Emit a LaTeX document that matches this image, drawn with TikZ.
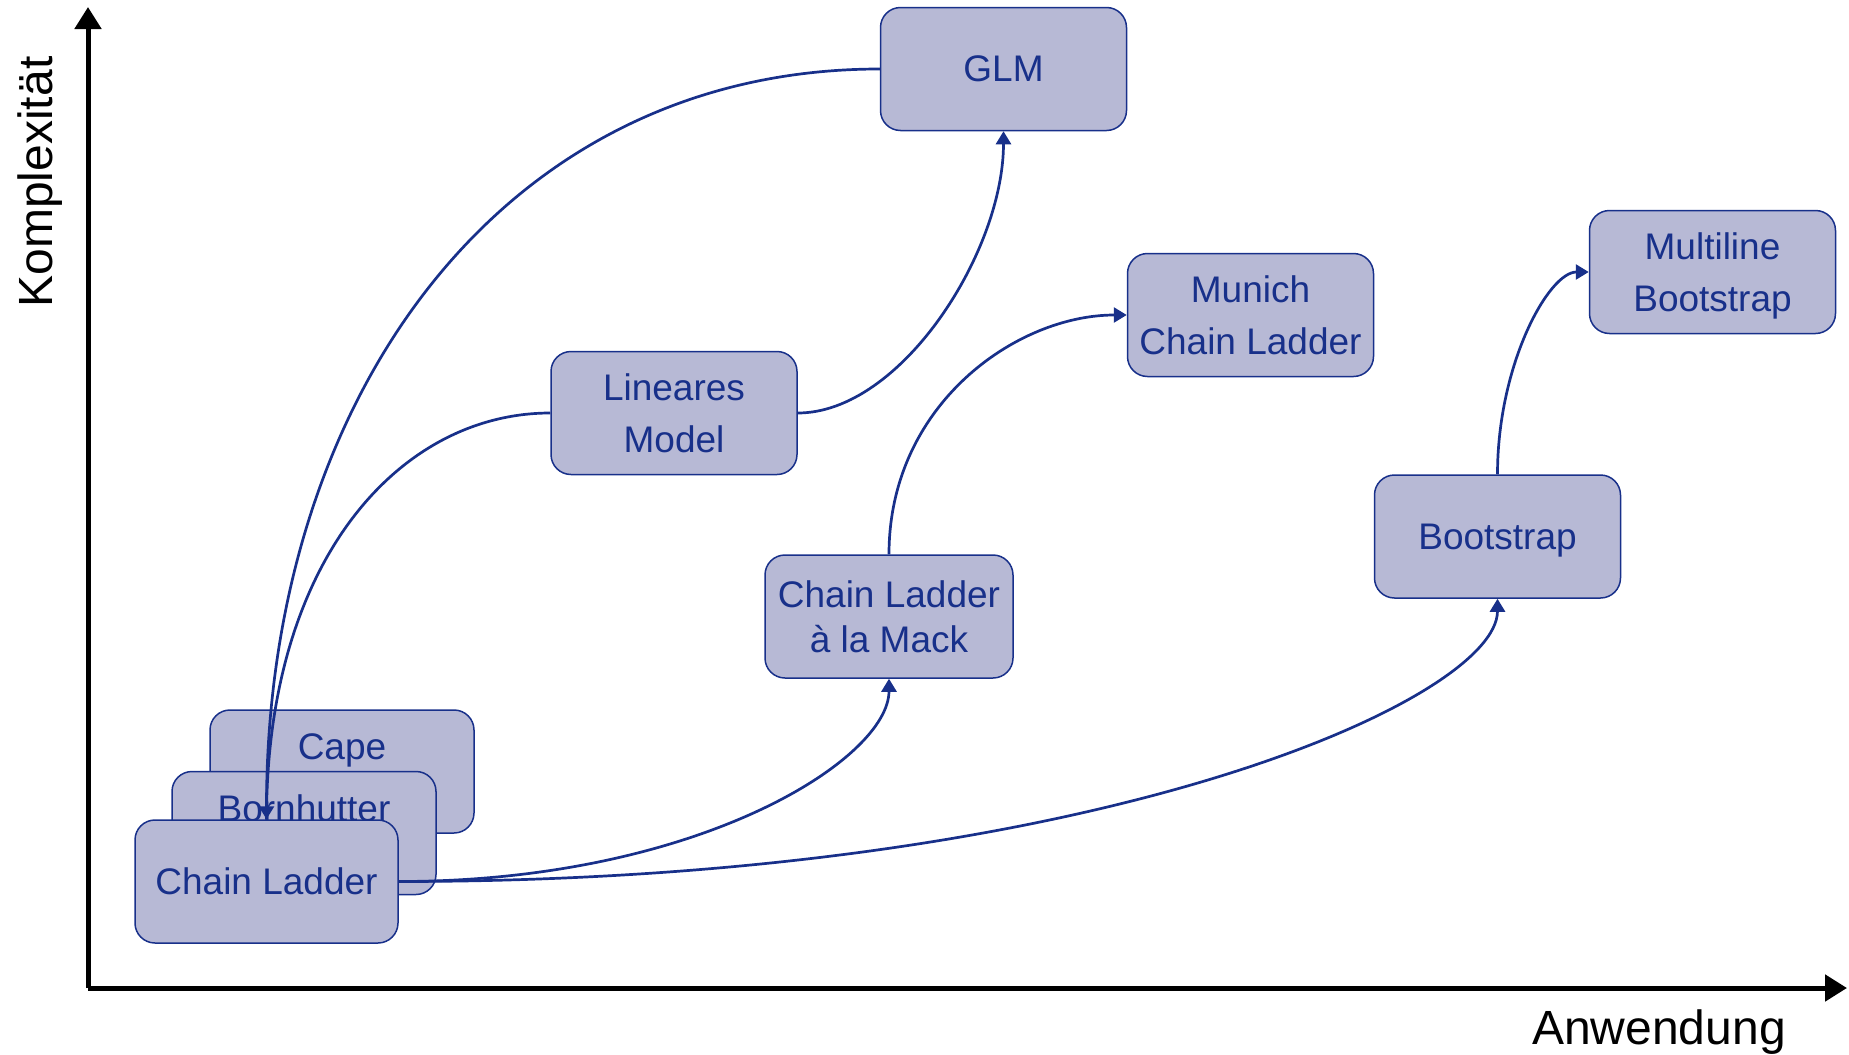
\documentclass[tikz,border=0pt]{standalone}
\usepackage{fontspec}
\setmainfont{Liberation Sans}
\usetikzlibrary{arrows.meta}
\definecolor{boxfill}{RGB}{183,185,213}
\definecolor{navy}{RGB}{24,48,138}
\begin{document}
\begin{tikzpicture}[x=0.5pt,y=-0.5pt,
  method/.style={draw=navy, line width=0.75pt, fill=boxfill, rounded corners=10pt,
    minimum width=#1, minimum height=61.5pt, inner sep=0pt, text=navy,
    text depth=0pt, font=\fontsize{18.5}{26}\selectfont, align=center},
  method/.default=123pt,
  caption/.style={text=navy, inner sep=0pt, text depth=0pt, font=\fontsize{18.5}{22}\selectfont},
  link/.style={draw=navy, line width=1.35pt},
  tip/.style={-{Triangle[length=6.5pt,width=7.5pt]}},
  axis/.style={line width=2.5pt, -{Triangle[length=11pt,width=13pt]}},
  axislabel/.style={inner sep=0pt, font=\fontsize{24}{28}\selectfont}]
  \useasboundingbox (0,0) rectangle (1849,1055);

  % axes
  \coordinate (origin) at (88,988);
  \coordinate (ytop) at (88,7);
  \coordinate (xend) at (1847,988);
  \draw[axis] (origin) -- (ytop);
  \draw[axis] (origin) -- (xend);
  \node[axislabel, rotate=90, anchor=base] (ylab) at (52,182) {Komplexität};
  \node[axislabel, anchor=base] (xlab) at (1659,1044) {Anwendung};

  % stacked base methods
  \node[method=132pt] (cape) at (342,771.5) {};
  \node[caption] (capetxt) at (342,746.5) {Cape};
  \node[method=132pt] (bh) at (304,833) {};
  \node[caption] (bhtxt) at (304,808) {Bornhutter};
  \node[method=131.5pt] (cl) at (266.5,881.5) {Chain Ladder};

  % further methods
  \node[method] (glm) at (1003.5,69) {GLM};
  \node[method] (lin) at (674,413) {Lineares\\Model};
  \node[method] (munich) at (1250.5,315) {Munich\\Chain Ladder};
  \node[method] (multi) at (1712.5,272) {Multiline\\Bootstrap};
  \node[method] (boot) at (1497.5,536.5) {Bootstrap};
  \node[method=124pt, font=\fontsize{18.5}{22.5}\selectfont] (mack) at (889,616.5) {Chain Ladder\\à la Mack};

  % connectors
  \draw[link, tip] (glm.west) .. controls +(-380,0) and +(0,-420) .. (cl.north);
  \draw[link] (lin.west) .. controls +(-150,0) and +(0,-260) .. (cl.north);
  \draw[link, tip] (lin.east) .. controls +(103,0) and +(0,121) .. (glm.south);
  \draw[link, tip] (cl.east) .. controls +(300,0) and +(0,80) .. (mack.south);
  \draw[link, tip] (cl.east) .. controls +(700,0) and +(0,100) .. (boot.south);
  \draw[link, tip] (mack.north) .. controls +(0,-150) and +(-110,0) .. (munich.west);
  \draw[link, tip] (boot.north) .. controls +(0,-110) and +(-40,0) .. (multi.west);
\end{tikzpicture}
\end{document}
